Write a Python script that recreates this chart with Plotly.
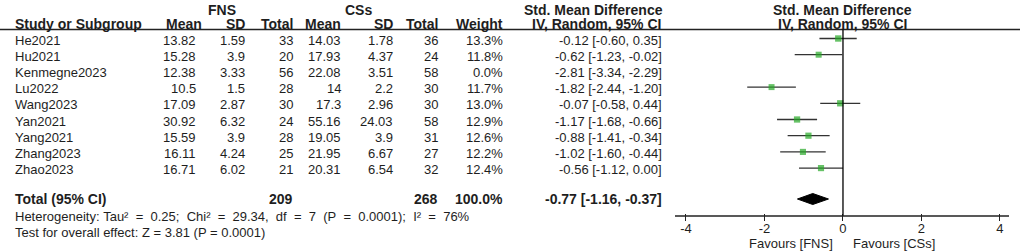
import plotly.graph_objects as go

studies = ["He2021", "Hu2021", "Kenmegne2023", "Lu2022", "Wang2023", "Yan2021", "Yang2021", "Zhang2023", "Zhao2023"]
fns_mean = ["13.82", "15.28", "12.38", "10.5", "17.09", "30.92", "15.59", "16.11", "16.71"]
fns_sd = ["1.59", "3.9", "3.33", "1.5", "2.87", "6.32", "3.9", "4.24", "6.02"]
fns_total = [33, 20, 56, 28, 30, 24, 28, 25, 21]
css_mean = ["14.03", "17.93", "22.08", "14", "17.3", "55.16", "19.05", "21.95", "20.31"]
css_sd = ["1.78", "4.37", "3.51", "2.2", "2.96", "24.03", "3.9", "6.67", "6.54"]
css_total = [36, 24, 58, 30, 30, 58, 31, 27, 32]
weight = [13.3, 11.8, 0.0, 11.7, 13.0, 12.9, 12.6, 12.2, 12.4]
smd = [-0.12, -0.62, -2.81, -1.82, -0.07, -1.17, -0.88, -1.02, -0.56]
ci_low = [-0.60, -1.23, -3.34, -2.44, -0.58, -1.68, -1.41, -1.60, -1.12]
ci_high = [0.35, -0.02, -2.29, -1.20, 0.44, -0.66, -0.34, -0.44, 0.00]

total_fns = 209
total_css = 268
total_weight = "100.0%"
pooled = -0.77
pooled_low = -1.16
pooled_high = -0.37
heterogeneity = "Heterogeneity: Tau² = 0.25; Chi² = 29.34, df = 7 (P = 0.0001); I² = 76%"
overall = "Test for overall effect: Z = 3.81 (P = 0.0001)"
tick_vals = [-4, -2, 0, 2, 4]
tick_text = ["-4", "-2", "0", "2", "4"]
favours_left = "Favours [FNS]"
favours_right = "Favours [CSs]"

W, H = 1022, 252
FONT = "Liberation Sans, Arial, sans-serif"
TXT = "#1e1e1e"
FS = 13
FSB = 14

row0, step = 38.5, 16.2
row_y = [row0 + step * i for i in range(len(studies))]
y_total, y_het, y_test = 199, 216, 232
y_axis = 216
x_lo, x_hi = -4.28, 4.23

fig = go.Figure()
annots = []


def txt(x, y, s, anchor="right", bold=False):
    annots.append(dict(x=x / W, xref="paper", y=y, yref="y", text=f"<b>{s}</b>" if bold else s,
                       showarrow=False, xanchor=anchor, yanchor="middle",
                       font=dict(family=FONT, size=FSB if bold else FS, color=TXT)))


# headers
txt(222, 10, "FNS", "center", True)
txt(358, 10, "CSs", "center", True)
txt(593, 10, "Std. Mean Difference", "center", True)
txt(842, 10, "Std. Mean Difference", "center", True)
txt(13, 24, "Study or Subgroup", "left", True)
txt(204, 24, "Mean", "right", True)
txt(247, 24, "SD", "right", True)
txt(295, 24, "Total", "right", True)
txt(343, 24, "Mean", "right", True)
txt(395, 24, "SD", "right", True)
txt(440, 24, "Total", "right", True)
txt(505, 24, "Weight", "right", True)
txt(663, 24, "IV, Random, 95% CI", "right", True)
txt(842, 24, "IV, Random, 95% CI", "center", True)

for i, s in enumerate(studies):
    y = row_y[i] + 1.5
    txt(13, y, s, "left")
    txt(198, y, fns_mean[i])
    txt(247, y, fns_sd[i])
    txt(295, y, str(fns_total[i]))
    txt(343, y, css_mean[i])
    txt(395, y, css_sd[i])
    txt(440, y, str(css_total[i]))
    txt(505, y, f"{weight[i]:.1f}%")
    txt(664, y, f"{smd[i]:.2f} [{ci_low[i]:.2f}, {ci_high[i]:.2f}]")

txt(13, y_total, "Total (95% CI)", "left", True)
txt(295, y_total, str(total_fns), "right", True)
txt(440, y_total, str(total_css), "right", True)
txt(505, y_total, total_weight, "right", True)
txt(664, y_total, f"{pooled:.2f} [{pooled_low:.2f}, {pooled_high:.2f}]", "right", True)
het_head, het_rest = heterogeneity.split(" ", 1)
txt(13, y_het, het_head + "\u00a0" + het_rest.replace(" ", "\u00a0\u00a0"), "left")
txt(13, y_test, overall, "left")

annots.append(dict(x=-0.2, xref="x", y=243.5, yref="y", text=favours_left, showarrow=False,
                   xanchor="right", yanchor="middle", font=dict(family=FONT, size=FS, color=TXT)))
annots.append(dict(x=0.2, xref="x", y=243.5, yref="y", text=favours_right, showarrow=False,
                   xanchor="left", yanchor="middle", font=dict(family=FONT, size=FS, color=TXT)))

# CI lines and markers
shown = [i for i in range(len(studies)) if weight[i] > 0]
for i in shown:
    fig.add_trace(go.Scatter(x=[ci_low[i], ci_high[i]], y=[row_y[i], row_y[i]], mode="lines",
                             line=dict(color="#333333", width=1.3), hoverinfo="skip", showlegend=False))
fig.add_trace(go.Scatter(x=[smd[i] for i in shown], y=[row_y[i] for i in shown], mode="markers",
                         marker=dict(symbol="square", color="#26a826",
                                     size=[1.75 * weight[i] ** 0.5 for i in shown], line=dict(width=0)),
                         hoverinfo="skip", showlegend=False))

# diamond
fig.add_trace(go.Scatter(x=[pooled_low, pooled, pooled_high, pooled, pooled_low],
                         y=[y_total, y_total - 5.5, y_total, y_total + 5.5, y_total],
                         mode="lines", fill="toself", fillcolor="black", line=dict(color="black", width=1),
                         hoverinfo="skip", showlegend=False))

shapes = [
    dict(type="line", xref="paper", yref="y", x0=0, x1=1020 / W, y0=29.5, y1=29.5,
         line=dict(color="#222222", width=1.3)),
    dict(type="line", xref="x", yref="y", x0=0, x1=0, y0=29.5, y1=y_axis,
         line=dict(color="black", width=1.3)),
    dict(type="line", xref="x", yref="y", x0=x_lo, x1=x_hi, y0=y_axis, y1=y_axis,
         line=dict(color="#222222", width=1.3)),
]

fig.update_layout(
    width=W, height=H, autosize=False, margin=dict(l=0, r=0, t=0, b=0),
    paper_bgcolor="white", plot_bgcolor="rgba(0,0,0,0)",
    annotations=annots, shapes=shapes, showlegend=False,
    xaxis=dict(domain=[675 / W, 1009 / W], range=[x_lo, x_hi], tickvals=tick_vals, ticktext=tick_text,
               anchor="free", position=1 - (y_axis - 3.5) / H, showline=False, showgrid=False,
               zeroline=False, ticks="outside", ticklen=7, tickwidth=1.3, tickcolor="#222222",
               ticklabelstandoff=-3,
               tickfont=dict(family=FONT, size=FS, color=TXT), fixedrange=True),
    yaxis=dict(domain=[0, 1], range=[H, 0], visible=False, fixedrange=True),
)

fig.write_html("out.html", config={"displayModeBar": False},
               post_script="document.body.style.margin='0';document.body.style.overflow='hidden';")
